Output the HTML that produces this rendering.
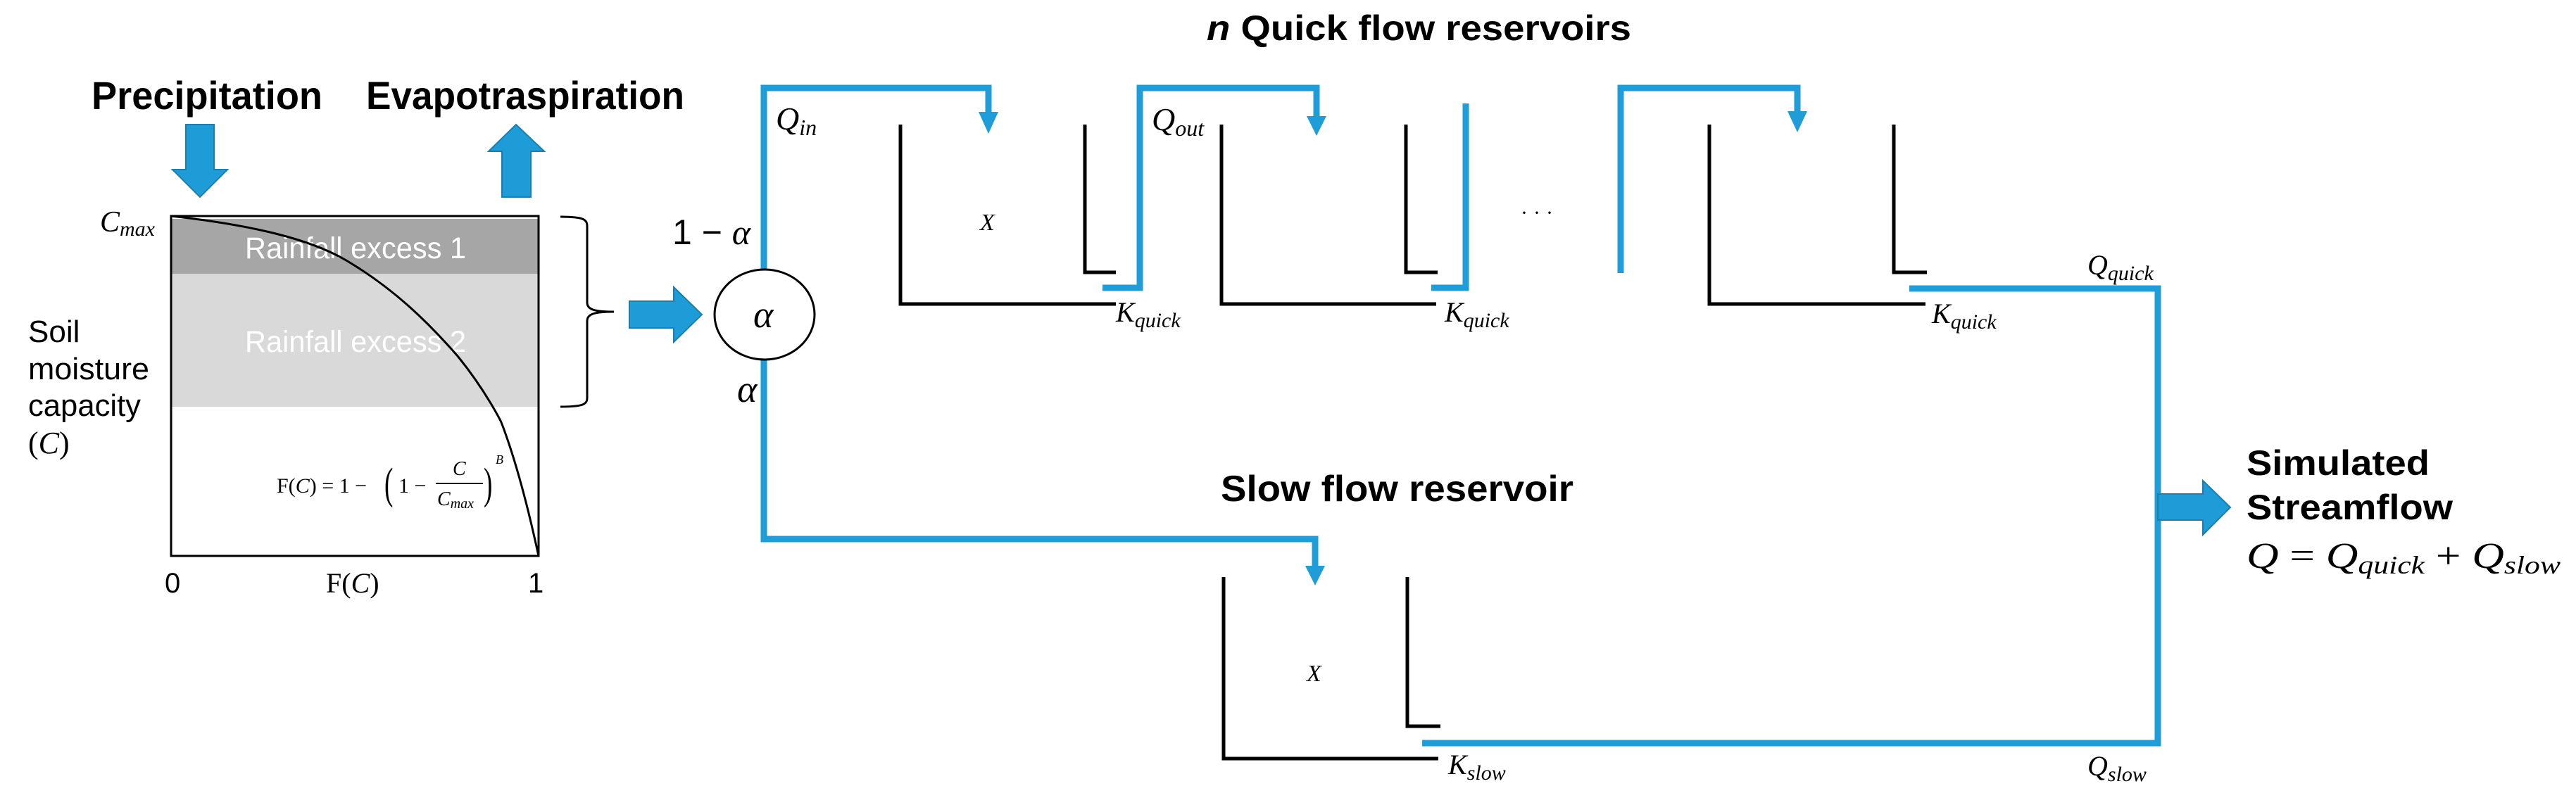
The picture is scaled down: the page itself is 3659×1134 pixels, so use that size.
<!DOCTYPE html>
<html><head><meta charset="utf-8"><style>
html,body{margin:0;padding:0;background:#fff;}
svg{display:block;}
.b{font-family:"Liberation Sans",sans-serif;font-weight:bold;fill:#000;}
.m{font-family:"Liberation Serif",serif;font-style:italic;fill:#000;}
.r{font-family:"Liberation Serif",serif;fill:#000;}
.s{font-family:"Liberation Sans",sans-serif;fill:#000;}
</style></head><body>
<svg width="3659" height="1134" viewBox="0 0 3659 1134" xmlns="http://www.w3.org/2000/svg">
<!-- titles -->
<text class="b" x="130" y="155" font-size="56" textLength="328" lengthAdjust="spacingAndGlyphs">Precipitation</text>
<text class="b" x="520" y="155" font-size="56" textLength="452" lengthAdjust="spacingAndGlyphs">Evapotraspiration</text>
<text class="b" x="1714" y="57" font-size="50" textLength="603" lengthAdjust="spacingAndGlyphs"><tspan font-style="italic">n</tspan> Quick flow reservoirs</text>
<text class="b" x="1734" y="712" font-size="52" textLength="501" lengthAdjust="spacingAndGlyphs">Slow flow reservoir</text>
<text class="b" x="3191" y="675" font-size="50" textLength="260" lengthAdjust="spacingAndGlyphs">Simulated</text>
<text class="b" x="3191" y="738" font-size="50" textLength="293" lengthAdjust="spacingAndGlyphs">Streamflow</text>
<text class="m" x="3191" y="807" font-size="52" textLength="446" lengthAdjust="spacingAndGlyphs">Q <tspan font-style="normal">=</tspan> Q<tspan font-size="36" dy="8">quick</tspan><tspan dy="-8" font-style="normal"> + </tspan>Q<tspan font-size="36" dy="8">slow</tspan></text>

<!-- precip / evap arrows -->
<polygon points="264,177 304,177 304,241 323,241 284,280 245,241 264,241" fill="#1e9cd7" stroke="#1a7fb0" stroke-width="2"/>
<polygon points="713,280 754,280 754,215 773,215 733,177 694,215 713,215" fill="#1e9cd7" stroke="#1a7fb0" stroke-width="2"/>

<!-- soil box -->
<rect x="243" y="311" width="522" height="78" fill="#a6a6a6"/>
<rect x="243" y="389" width="522" height="189" fill="#d9d9d9"/>
<text class="s" x="348" y="367" font-size="43" fill="#fff" style="fill:#fff" textLength="314" lengthAdjust="spacingAndGlyphs">Rainfall excess 1</text>
<text class="s" x="348" y="500" font-size="43" style="fill:#fff" textLength="314" lengthAdjust="spacingAndGlyphs">Rainfall excess 2</text>
<rect x="243" y="307" width="522" height="483" fill="none" stroke="#000" stroke-width="3"/>
<path d="M243,307 C360,320 440,340 490,369 C560,410 610,460 650,506 C690,555 712,600 712,600 C735,660 752,730 765,790" fill="none" stroke="#000" stroke-width="3"/>
<text class="m" x="142" y="329" font-size="42">C<tspan font-size="30" dy="6">max</tspan></text>
<text class="s" x="40" y="486" font-size="44">Soil</text>
<text class="s" x="40" y="539" font-size="44" textLength="172" lengthAdjust="spacingAndGlyphs">moisture</text>
<text class="s" x="40" y="591" font-size="44" textLength="160" lengthAdjust="spacingAndGlyphs">capacity</text>
<text class="r" x="40" y="644" font-size="44">(<tspan font-style="italic">C</tspan>)</text>
<!-- formula -->
<text class="r" x="393" y="700" font-size="30">F(<tspan font-style="italic">C</tspan>) = 1 −</text>
<text class="r" x="546" y="708" font-size="62" transform="translate(546 0) scale(0.6 1) translate(-546 0)">(</text>
<text class="r" x="566" y="700" font-size="30">1 −</text>
<line x1="619" y1="687" x2="686" y2="687" stroke="#000" stroke-width="2"/>
<text class="m" x="643" y="675" font-size="28">C</text>
<text class="m" x="621" y="718" font-size="28">C<tspan font-size="20" dy="4">max</tspan></text>
<text class="r" x="687" y="708" font-size="62" transform="translate(687 0) scale(0.6 1) translate(-687 0)">)</text>
<text class="m" x="704" y="659" font-size="18">B</text>
<text class="s" x="234" y="842" font-size="40">0</text>
<text class="r" x="463" y="842" font-size="40">F(<tspan font-style="italic">C</tspan>)</text>
<text class="s" x="750" y="842" font-size="40">1</text>

<!-- brace -->
<path d="M796,308 C830,308 834,312 834,322 L834,430 C834,440 845,443 872,443 C845,443 834,446 834,456 L834,565 C834,574 830,578 796,578" fill="none" stroke="#000" stroke-width="3"/>
<!-- right arrow -->
<polygon points="894,428 957,428 957,408 997,447 957,486 957,466 894,466" fill="#1e9cd7" stroke="#1a7fb0" stroke-width="2"/>

<!-- splitter -->
<text class="s" x="955" y="347" font-size="50">1 − <tspan class="m" font-family="Liberation Serif" font-style="italic">α</tspan></text>
<text class="m" x="1047" y="571" font-size="54">α</text>

<!-- blue lines -->
<g fill="none" stroke="#1e9dd8" stroke-width="9" stroke-linejoin="miter">
<polyline points="1085,384 1085,125 1404,125 1404,165"/>
<polyline points="1085,511 1085,766 1868,766 1868,808"/>
<polyline points="1566,409 1619,409 1619,125 1870,125 1870,170"/>
<polyline points="2033,409 2082,409 2082,147"/>
<polyline points="2302,388 2302,125 2553,125 2553,165"/>
<polyline points="2712,410 3065,410 3065,1056 2020,1056"/>
</g>
<g fill="#1e9dd8">
<polygon points="1390,159 1418,159 1404,190"/>
<polygon points="1856,165 1884,165 1870,193"/>
<polygon points="2539,158 2567,158 2553,188"/>
<polygon points="1854,804 1882,804 1868,832"/>
</g>
<!-- circle -->
<ellipse cx="1086" cy="447" rx="71" ry="64" fill="#fff" stroke="#000" stroke-width="3"/>
<text class="m" x="1070" y="465" font-size="54">α</text>

<!-- tanks -->
<g fill="none" stroke="#000" stroke-width="5">
<polyline points="1279,177 1279,432 1585,432"/>
<polyline points="1541,177 1541,387 1585,387"/>
<polyline points="1735,177 1735,432 2040,432"/>
<polyline points="1997,177 1997,387 2042,387"/>
<polyline points="2428,177 2428,432 2735,432"/>
<polyline points="2690,177 2690,387 2737,387"/>
<polyline points="1738,820 1738,1078 2043,1078"/>
<polyline points="1999,820 1999,1032 2046,1032"/>
</g>

<!-- labels -->
<text class="m" x="1102" y="184" font-size="46">Q<tspan font-size="32" dy="8">in</tspan></text>
<text class="m" x="1636" y="185" font-size="46">Q<tspan font-size="32" dy="8">out</tspan></text>
<text class="m" x="1392" y="327" font-size="34">X</text>
<text class="m" x="1856" y="968" font-size="34">X</text>
<text class="m" x="1585" y="457" font-size="40">K<tspan font-size="30" dy="8">quick</tspan></text>
<text class="m" x="2052" y="457" font-size="40">K<tspan font-size="30" dy="8">quick</tspan></text>
<text class="m" x="2744" y="459" font-size="40">K<tspan font-size="30" dy="8">quick</tspan></text>
<text class="m" x="2057" y="1100" font-size="40">K<tspan font-size="30" dy="8">slow</tspan></text>
<text class="m" x="2965" y="390" font-size="40">Q<tspan font-size="30" dy="8">quick</tspan></text>
<text class="m" x="2965" y="1102" font-size="40">Q<tspan font-size="30" dy="8">slow</tspan></text>
<text class="r" x="2160" y="312" font-size="30" letter-spacing="8">···</text>

<!-- output arrow -->
<polygon points="3065,702 3129,702 3129,683 3168,721 3129,760 3129,739 3065,739" fill="#1e9cd7" stroke="#1a7fb0" stroke-width="2"/>
</svg>
</body></html>
